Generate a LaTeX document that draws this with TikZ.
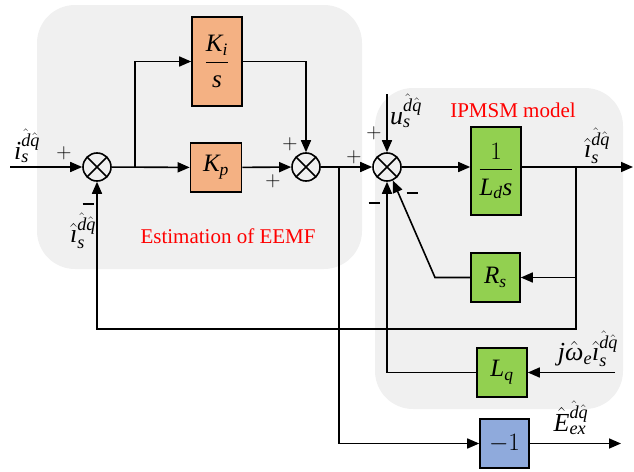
\RequirePackage{fix-cm}
\documentclass[tikz,border=0pt]{standalone}
\usepackage{amsmath}
\usepackage{fontspec}
\setmainfont{Liberation Serif}
\usetikzlibrary{arrows.meta}
\definecolor{bggray}{HTML}{F0F0F0}
\definecolor{orangebox}{HTML}{F4B183}
\definecolor{greenbox}{HTML}{92D050}
\definecolor{bluebox}{HTML}{8FAADC}
\newcommand{\hatdq}{\hat{\mathit{d}}\hat{\mathit{q}}}
\newcommand{\mi}[1]{\mathit{#1}}
\newcommand{\ihat}{\hat{\text{\itshape ı}}}
\newcommand{\whatt}{\hat{\text{\itshape ω}}}
\begin{document}
\begin{tikzpicture}[x=1pt,y=-1pt,line width=1.6pt,
  >={Triangle[length=12pt,width=10pt]},
  blk/.style={draw, line width=1.6pt, inner sep=0pt, font=\fontsize{25}{30}\selectfont},
  sumj/.style={circle, draw, line width=1.6pt, minimum size=28pt, inner sep=0pt,
    path picture={\draw[line width=1.6pt] (path picture bounding box.north west) -- (path picture bounding box.south east)
      (path picture bounding box.south west) -- (path picture bounding box.north east);}},
  lbl/.style={font=\fontsize{26}{30}\selectfont, inner sep=0pt},
  sgn/.style={font=\fontsize{21}{25}\selectfont, inner sep=0pt},
  mns/.style={inner sep=0pt},
  redtxt/.style={text=red, font=\fontsize{21}{25}\selectfont, inner sep=0pt}]
\useasboundingbox (0,0) rectangle (634,471);
\fill[bggray, rounded corners=38pt] (37,5) rectangle (362,269);
\fill[bggray, rounded corners=38pt] (375,88) rectangle (623,409);

% summing junctions
\node[sumj] (s1) at (97,167) {};
\node[sumj] (s2) at (306,167) {};
\node[sumj] (s3) at (387,167) {};

% blocks
\node[blk, fill=orangebox, minimum width=50pt, minimum height=89pt] (ki) at (217,61.5)
  {$\dfrac{\mi{K}_{\mi{i}}\rule[-7pt]{0pt}{0pt}}{\rule{0pt}{22pt}\mi{s}}$};
\node[blk, fill=orangebox, minimum width=51pt, minimum height=49pt] (kp) at (216,167.5) {$\mi{K}_{\mi{p}}$};
\node[blk, fill=greenbox, minimum width=50pt, minimum height=88pt] (ld) at (496,171)
  {$\dfrac{1\rule[-7pt]{0pt}{0pt}}{\rule{0pt}{22pt}\mi{L}_{\mi{d}}\mi{s}}$};
\node[blk, fill=greenbox, minimum width=49pt, minimum height=49pt] (rs) at (495.5,277.5) {$\mi{R}_{\mi{s}}$};
\node[blk, fill=greenbox, minimum width=50pt, minimum height=49pt] (lq) at (502,372.5) {$\mi{L}_{\mi{q}}$};
\node[blk, fill=bluebox, minimum width=49pt, minimum height=49pt] (neg) at (504.5,443.5) {$-1$};

% coordinates
\coordinate (in) at (10,167);
\coordinate (b1) at (135,167);
\coordinate (b2) at (339,167);
\coordinate (utop) at (387,94);
\coordinate (b3) at (576,167);
\coordinate (iout) at (633,167);
\coordinate (fb1) at (576,329);
\coordinate (fb2) at (97,329);
\coordinate (rsc) at (435,277.5);
\coordinate (jin) at (615,372.5);
\coordinate (lqc) at (387,372.5);
\coordinate (eout) at (621,443.5);

% connectors
\draw[->] (in) -- (s1);
\draw[->] (s1) -- (kp);
\draw[->] (b1) |- (ki);
\draw[->] (kp) -- (s2);
\draw[->] (ki) -| (s2);
\draw[->] (s2) -- (s3);
\draw[->] (b2) |- (neg);
\draw[->] (neg) -- (eout);
\draw[->] (utop) -- (s3);
\draw[->] (s3) -- (s3 -| ld.west);
\draw[->] (s3 -| ld.east) -- (iout);
\draw[->] (b3) |- (rs);
\draw[->] (b3) -- (fb1) -- (fb2) -- (s1);
\draw[->] (rs) -- (rsc) -- (s3);
\draw[->] (jin) -- (lq);
\draw[->] (lq) -- (lqc) -- (s3);

% signal labels
\node[lbl] (lin) at (27,146) {$\mi{i}_{\mi{s}}^{\hatdq}$};
\node[lbl] (lfb) at (83,231) {$\ihat_{\mi{s}}^{\hatdq}$};
\node[lbl] (lu) at (406,111) {$\mi{u}_{\mi{s}}^{\hatdq}$};
\node[lbl] (lout) at (597,146) {$\ihat_{\mi{s}}^{\hatdq}$};
\node[lbl] (lj) at (588,349) {$\mi{j}\whatt_{\mi{e}}\ihat_{\mi{s}}^{\hatdq}$};
\node[lbl] (le) at (571,418) {$\hat{\mi{E}}_{\mi{ex}}^{\hatdq}$};

% region titles
\node[redtxt] (t1) at (228,236) {Estimation of EEMF};
\node[redtxt] (t2) at (513,110) {IPMSM model};

% signs
\node[sgn] (p1) at (64,153) {$+$};
\node[mns] (m1) at (88,204) {\rule{11pt}{2.6pt}};
\node[sgn] (p2) at (290,144) {$+$};
\node[sgn] (p3) at (273,181) {$+$};
\node[sgn] (p4) at (354,157) {$+$};
\node[sgn] (p5) at (374,133) {$+$};
\node[mns] (m2) at (374,203) {\rule{11pt}{2.6pt}};
\node[mns] (m3) at (412,193) {\rule{11pt}{2.6pt}};
\end{tikzpicture}
\end{document}
